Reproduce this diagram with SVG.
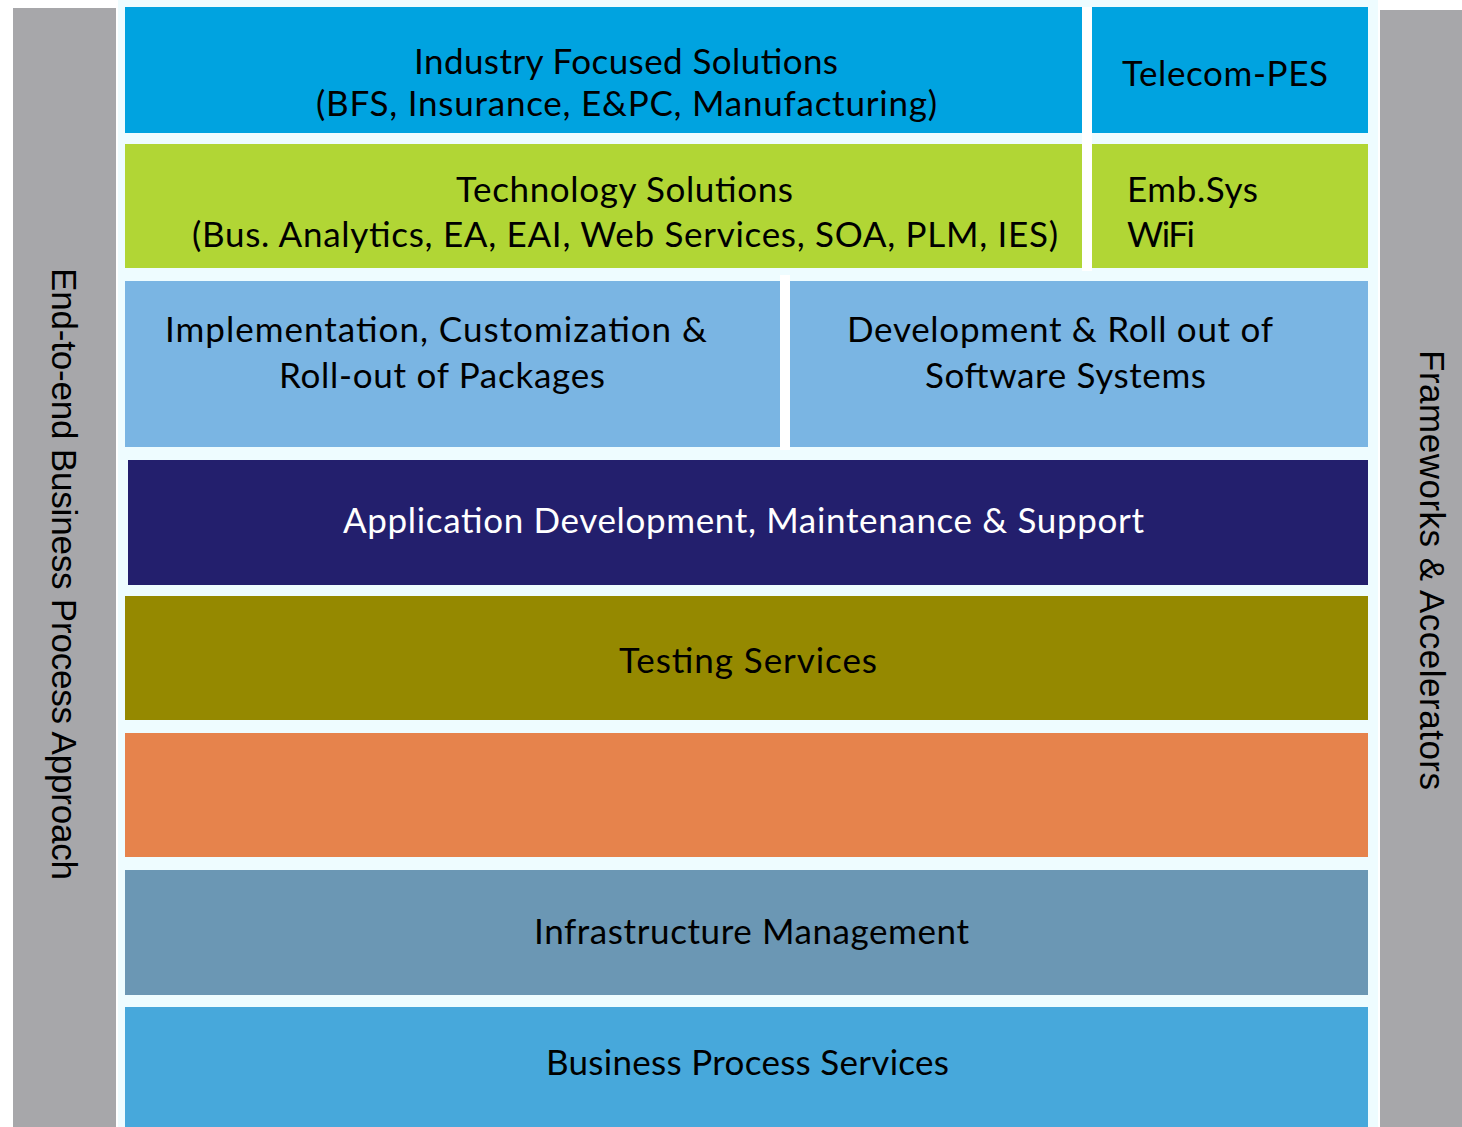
<svg xmlns="http://www.w3.org/2000/svg" width="1462" height="1127" viewBox="0 0 1462 1127">
<style>
.t{font-family:Lato,"Open Sans","Liberation Sans",sans-serif;font-size:35px;fill:#000;}
.w{fill:#fff;}
.m{text-anchor:middle;}
.side{font-family:"Liberation Sans",Arial,sans-serif;font-size:35px;fill:#000;text-anchor:middle;}
.gap{fill:#ffffff;}
</style>
<rect x="0" y="0" width="1462" height="1127" fill="#ffffff"/>
<rect x="118" y="0" width="1260" height="1127" fill="#eefcff"/>
<g id="left-bar">
<rect x="13" y="8" width="103" height="1119" fill="#a7a7aa"/>
<text class="side" transform="translate(52,574) rotate(90)" textLength="612">End-to-end Business Process Approach</text>
</g>
<g id="right-bar">
<rect x="1380" y="10" width="82" height="1117" fill="#a7a7aa"/>
<text class="side" transform="translate(1420,570) rotate(90)" textLength="440">Frameworks &amp; Accelerators</text>
</g>
<g id="industry">
<rect x="125" y="7" width="957" height="126" fill="#00a3e0"/>
<text class="t m" x="626" y="74" textLength="424">Industry Focused Solutions</text>
<text class="t m" x="626.5" y="116" textLength="621">(BFS, Insurance, E&amp;PC, Manufacturing)</text>
</g>
<g id="telecom">
<rect x="1092" y="7" width="276" height="126" fill="#00a3e0"/>
<text class="t m" x="1225" y="86" textLength="206">Telecom-PES</text>
</g>
<g id="technology">
<rect x="125" y="144" width="957" height="124" fill="#b1d635"/>
<text class="t m" x="624.5" y="202" textLength="337">Technology Solutions</text>
<text class="t m" x="625" y="247" textLength="866">(Bus. Analytics, EA, EAI, Web Services, SOA, PLM, IES)</text>
</g>
<g id="embsys">
<rect x="1092" y="144" width="276" height="124" fill="#b1d635"/>
<text class="t" x="1127" y="202" textLength="131">Emb.Sys</text>
<text class="t" x="1127" y="247" textLength="68">WiFi</text>
</g>
<g id="implementation">
<rect x="125" y="281" width="655" height="166" fill="#7ab5e3"/>
<text class="t m" x="436" y="342" textLength="542">Implementation, Customization &amp;</text>
<text class="t m" x="442" y="388" textLength="326">Roll-out of Packages</text>
</g>
<g id="development">
<rect x="790" y="281" width="578" height="166" fill="#7ab5e3"/>
<text class="t m" x="1060" y="342" textLength="426">Development &amp; Roll out of</text>
<text class="t m" x="1065.5" y="388" textLength="281">Software Systems</text>
</g>
<g id="dividers">
<rect x="1082" y="7" width="10" height="264" fill="#ffffff"/>
<rect x="780" y="275" width="10" height="175" fill="#ffffff"/>
</g>
<g id="adms">
<rect x="128" y="460" width="1240" height="125" fill="#231f6d"/>
<text class="t w m" x="743.5" y="533" textLength="801">Application Development, Maintenance &amp; Support</text>
</g>
<g id="testing">
<rect x="125" y="596" width="1243" height="124" fill="#958900"/>
<text class="t m" x="748" y="673" textLength="258">Testing Services</text>
</g>
<g id="orange">
<rect x="125" y="733" width="1243" height="124" fill="#e6834c"/>
</g>
<g id="infrastructure">
<rect x="125" y="870" width="1243" height="125" fill="#6b97b4"/>
<text class="t m" x="751.5" y="944" textLength="435">Infrastructure Management</text>
</g>
<g id="bps">
<rect x="125" y="1007" width="1243" height="120" fill="#47a8db"/>
<text class="t m" x="747.5" y="1075" textLength="403">Business Process Services</text>
</g>
</svg>
